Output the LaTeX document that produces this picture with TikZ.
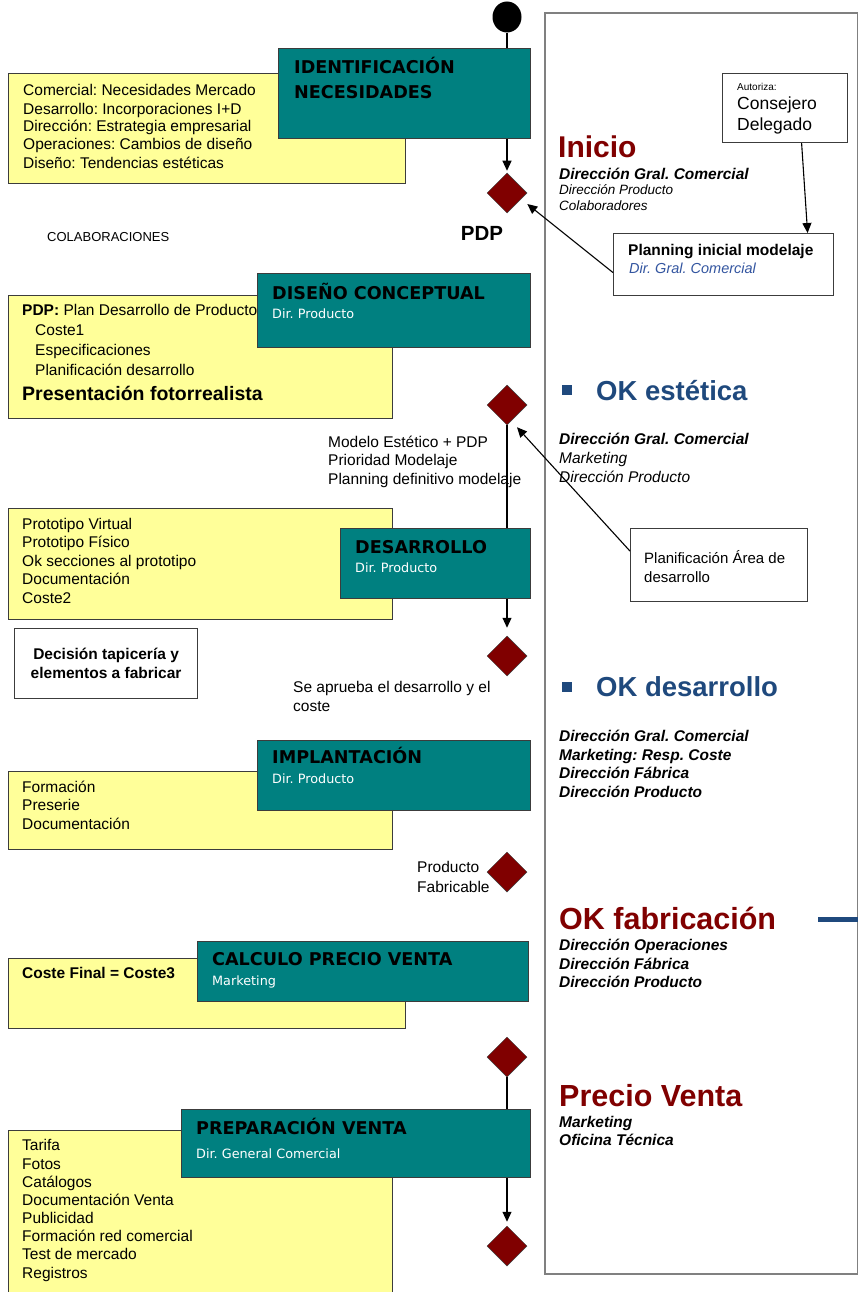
\documentclass[tikz,border=0pt]{standalone}
\usepackage{fontspec}
\setmainfont{Liberation Sans}
\newfontfamily\stagefont{DejaVu Sans}
\frenchspacing
\usetikzlibrary{arrows.meta,shapes.geometric}
\definecolor{prTeal}{RGB}{0,128,128}
\definecolor{prNote}{RGB}{255,255,153}
\definecolor{prMaroon}{RGB}{128,0,0}
\definecolor{prNavy}{RGB}{31,73,125}
\definecolor{prLink}{RGB}{51,85,160}
\definecolor{prEdge}{RGB}{60,60,60}
\definecolor{prFrame}{RGB}{128,128,128}
\tikzset{
  prpanel/.style={draw=prFrame,line width=1.6pt,fill=white,anchor=north west,inner sep=0pt},
  prstage/.style={draw=prEdge,line width=1.2pt,fill=prTeal,anchor=north west,inner sep=0pt},
  prnote/.style={draw=prEdge,line width=1.2pt,fill=prNote,anchor=north west,inner sep=0pt},
  prcard/.style={draw=prEdge,line width=1.2pt,fill=white,anchor=north west,inner sep=0pt},
  prgate/.style={diamond,aspect=1,draw=prEdge,line width=0.5pt,fill=prMaroon,
    minimum width=40pt,minimum height=40pt,inner sep=0pt},
  prstart/.style={ellipse,fill=black,minimum width=29pt,minimum height=31pt,inner sep=0pt},
  prtitle/.style={font=\stagefont\bfseries\fontsize{17.6}{24.5}\selectfont,text=black,
    anchor=base west,align=left,inner sep=0pt},
  prsub/.style={font=\stagefont\fontsize{12.8}{15}\selectfont,text=white,anchor=base west,inner sep=0pt},
  prlist/.style={font=\fontsize{15.5}{18.5}\selectfont,text=black,anchor=base west,align=left,inner sep=0pt},
  prhead/.style={font=\bfseries\fontsize{30.5}{34}\selectfont,text=prMaroon,anchor=base west,inner sep=0pt},
  prokhead/.style={font=\bfseries\fontsize{27.5}{32}\selectfont,text=prNavy,anchor=base west,inner sep=0pt},
  prbullet/.style={rectangle,fill=prNavy,minimum size=10pt,inner sep=0pt},
  prrole/.style={font=\bfseries\itshape\fontsize{15.5}{18.7}\selectfont,anchor=base west,align=left,inner sep=0pt},
  prroleplain/.style={font=\itshape\fontsize{15.5}{18.7}\selectfont,anchor=base west,align=left,inner sep=0pt},
  prflow/.style={-{Triangle[length=10pt,width=9pt]},draw=black,line width=1.1pt},
  prline/.style={draw=black,line width=1.1pt},
}

\begin{document}
\begin{tikzpicture}[x=1pt,y=-1pt]
\useasboundingbox (0,0) rectangle (858,1292);
% multi-line texts sit on the baseline of their last line

% Right column: approvals and responsibles.
\node[prpanel,minimum width=313pt,minimum height=1261pt] (panel) at (544,12) {};

% Yellow notes, drawn first so the stages overlap them.
\node[prnote,minimum width=397pt,minimum height=110pt] (nIdent) at (8,73) {};
\node[prlist,font=\fontsize{15.5}{18}\selectfont] (tIdent) at (23,168)
  {Comercial: Necesidades Mercado\\Desarrollo: Incorporaciones I+D\\
   Dirección: Estrategia empresarial\\Operaciones: Cambios de diseño\\
   Diseño: Tendencias estéticas};

\node[prnote,minimum width=384pt,minimum height=123pt] (nConc) at (8,295) {};
\node[prlist,font=\fontsize{15.5}{19.7}\selectfont] (tConc) at (22,375)
  {\textbf{PDP:} Plan Desarrollo de Producto\\\hspace*{13pt}Coste1\\
   \hspace*{13pt}Especificaciones\\\hspace*{13pt}Planificación desarrollo};
\node[prlist,font=\bfseries\fontsize{19.5}{22}\selectfont] (tPresent) at (22,400)
  {Presentación fotorrealista};

\node[prnote,minimum width=384pt,minimum height=111pt] (nDes) at (8,508) {};
\node[prlist] (tDes) at (22,603)
  {Prototipo Virtual\\Prototipo Físico\\Ok secciones al prototipo\\Documentación\\Coste2};

\node[prnote,minimum width=384pt,minimum height=78pt] (nImpl) at (8,771) {};
\node[prlist] (tImpl) at (22,829) {Formación\\Preserie\\Documentación};

\node[prnote,minimum width=397pt,minimum height=70pt] (nCalc) at (8,958) {};
\node[prlist,font=\bfseries\fontsize{15.5}{18.5}\selectfont] (tCalc) at (22,978)
  {Coste Final = Coste3};

\node[prnote,minimum width=384pt,minimum height=180pt] (nPrep) at (8,1130) {};
\node[prlist,font=\fontsize{15.5}{18.15}\selectfont] (tPrep) at (22,1278)
  {Tarifa\\Fotos\\Catálogos\\Documentación Venta\\Publicidad\\
   Formación red comercial\\Test de mercado\\Registros};

% Stages (teal).
\node[prstage,minimum width=252pt,minimum height=90pt] (sIdent) at (278,48) {};
\node[prtitle] (hIdent) at (294,98.5) {IDENTIFICACIÓN\\NECESIDADES};

\node[prstage,minimum width=273pt,minimum height=74pt] (sConc) at (257,273) {};
\node[prtitle] (hConc) at (272,299.5) {DISEÑO CONCEPTUAL};
\node[prsub] (bConc) at (272,318) {Dir. Producto};

\node[prstage,minimum width=190pt,minimum height=70pt] (sDes) at (340,528) {};
\node[prtitle] (hDes) at (355,553.5) {DESARROLLO};
\node[prsub] (bDes) at (355,572.5) {Dir. Producto};

\node[prstage,minimum width=273pt,minimum height=70pt] (sImpl) at (257,740) {};
\node[prtitle] (hImpl) at (272,763.5) {IMPLANTACIÓN};
\node[prsub] (bImpl) at (272,783.5) {Dir. Producto};

\node[prstage,minimum width=331pt,minimum height=60pt] (sCalc) at (197,941) {};
\node[prtitle] (hCalc) at (212,965.5) {CALCULO PRECIO VENTA};
\node[prsub] (bCalc) at (212,985.5) {Marketing};

\node[prstage,minimum width=349pt,minimum height=68pt] (sPrep) at (181,1109) {};
\node[prtitle] (hPrep) at (196,1134.5) {PREPARACIÓN VENTA};
\node[prsub] (bPrep) at (196,1158.5) {Dir. General Comercial};

% Start and decision points.
\node[prstart] (start) at (507,17) {};
\node[prgate] (dPdp) at (507,193) {};
\node[prgate] (dGate2) at (507,405) {};
\node[prgate] (dGate3) at (507,656) {};
\node[prgate] (dGate4) at (507,872) {};
\node[prgate] (dGate5) at (507,1057) {};
\node[prgate] (dGate6) at (507,1246) {};

% Side boxes.
\node[prcard,minimum width=125pt,minimum height=69pt] (aAut) at (722,73) {};
\node[prlist,font=\fontsize{10}{12}\selectfont] (tAut) at (737,90.5) {Autoriza:};
\node[prlist,font=\fontsize{17.5}{21}\selectfont] (tAutWho) at (737,130.5) {Consejero\\Delegado};

\node[prcard,minimum width=220pt,minimum height=62pt] (pPlan) at (613,233) {};
\node[prlist,font=\bfseries\fontsize{15.5}{18}\selectfont] (tPlan) at (628,255.5)
  {Planning inicial modelaje};
\node[prlist,font=\itshape\fontsize{14.5}{18}\selectfont,text=prLink] (tPlanWho) at (629,273)
  {Dir. Gral. Comercial};

\node[prcard,minimum width=177pt,minimum height=73pt] (pArea) at (630,528) {};
\node[prlist,font=\fontsize{15}{18.5}\selectfont] (tArea) at (644,582)
  {Planificación Área de\\desarrollo};

\node[prcard,minimum width=183pt,minimum height=70pt,align=center,
      font=\bfseries\fontsize{15.5}{18.5}\selectfont] (cDec) at (14,628)
  {Decisión tapicería y\\elementos a fabricar};

% Connectors.
\draw[prline] (start.south) -- (start |- sIdent.north);
\draw[prflow,shorten >=2pt] (dPdp |- sIdent.south) -- (dPdp.north);
\draw[prflow] ([xshift=16.5pt]aAut.south) -- ([xshift=84pt]pPlan.north);
\draw[prflow] ([yshift=-8pt]pPlan.west) -- ([yshift=-11pt]dPdp.east);
\draw[prline] (dGate2.south) -- (dGate2 |- sDes.north);
\draw[prflow] ([yshift=14pt]pArea.west) -- ([xshift=10pt,yshift=-2pt]dGate2.south);
\draw[prflow,shorten >=8pt] (dGate3 |- sDes.south) -- (dGate3.north);
\draw[prline] (dGate5.south) -- (dGate5 |- sPrep.north);
\draw[prflow,shorten >=4pt] (dGate6 |- sPrep.south) -- (dGate6.north);

% Labels along the flow.
\node[prlist,font=\bfseries\fontsize{20.5}{24}\selectfont,anchor=base] (lPdp) at (482,240.5) {PDP};
\node[prlist,font=\fontsize{13}{15}\selectfont] (lColab) at (47,241.5) {COLABORACIONES};
\node[prlist] (lModelo) at (328,484)
  {Modelo Estético + PDP\\Prioridad Modelaje\\Planning definitivo modelaje};
\node[prlist,font=\fontsize{15.5}{19}\selectfont] (lAprueba) at (293,711)
  {Se aprueba el desarrollo y el\\coste};
\node[prlist,font=\fontsize{15.5}{20}\selectfont] (lFabricable) at (417,892)
  {Producto\\Fabricable};

% Approvals in the right column.
\node[prhead,font=\bfseries\fontsize{30}{34}\selectfont] (hInicio) at (558,158) {Inicio};
\node[prrole] (rInicio) at (559,179.5) {Dirección Gral. Comercial};
\node[prroleplain,font=\itshape\fontsize{13.5}{16}\selectfont] (rInicio2) at (559,211)
  {Dirección Producto\\Colaboradores};

\node[prbullet] (bEstetica) at (567,390) {};
\node[prokhead] (hEstetica) at (596,400) {OK estética};
\node[prrole] (rEstetica) at (559,444.5) {Dirección Gral. Comercial};
\node[prroleplain,font=\itshape\fontsize{15.5}{19}\selectfont] (rEstetica2) at (559,482.5)
  {Marketing\\Dirección Producto};

\node[prbullet] (bDesarrollo) at (567,687) {};
\node[prokhead] (hDesarrollo) at (596,696) {OK desarrollo};
\node[prrole] (rDesarrollo) at (559,797.6)
  {Dirección Gral. Comercial\\Marketing: Resp. Coste\\Dirección Fábrica\\Dirección Producto};

\node[prhead] (hFabrica) at (559,929) {OK fabricación};
\node[prrole] (rFabrica) at (559,987.9)
  {Dirección Operaciones\\Dirección Fábrica\\Dirección Producto};
\coordinate (dashL) at (818,919);
\coordinate (dashR) at (858,919);
\draw[prNavy,line width=5pt] (dashL) -- (dashR);

\node[prhead] (hPrecio) at (559,1106) {Precio Venta};
\node[prrole,font=\bfseries\itshape\fontsize{15.5}{17.5}\selectfont] (rPrecio) at (559,1145)
  {Marketing\\Oficina Técnica};
\end{tikzpicture}
\end{document}
